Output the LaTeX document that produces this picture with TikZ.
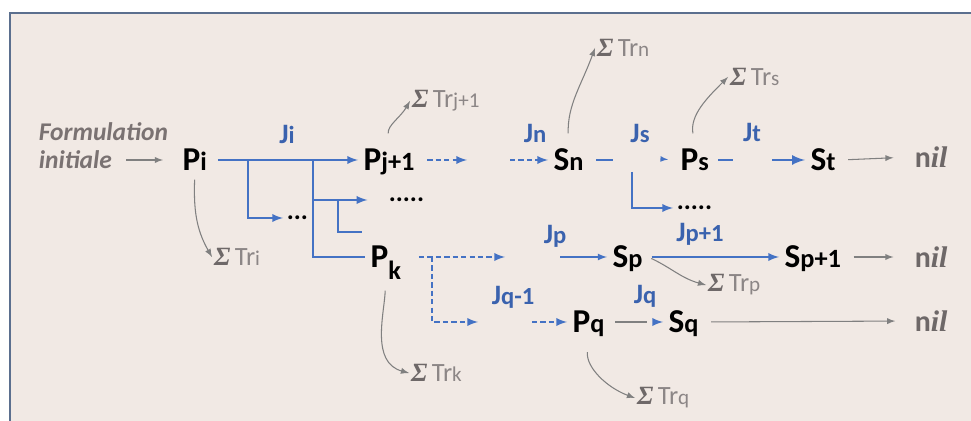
\documentclass[tikz,border=0pt]{standalone}
\usepackage{fontspec}
\setmainfont{Carlito}
\newfontfamily\serifit{Liberation Serif}
\definecolor{jblue}{HTML}{4472C4}
\definecolor{jlab}{HTML}{3A62AE}
\definecolor{trgray}{HTML}{8C8686}
\definecolor{siggray}{HTML}{6E6868}
\definecolor{fgray}{HTML}{7A7272}
\definecolor{bgcol}{HTML}{F1E9E4}
\definecolor{framecol}{HTML}{5B6F8E}
\newcommand{\ix}[1]{{\fontsize{15}{15}\selectfont #1}}
\newcommand{\jx}[1]{{\fontsize{14}{14}\selectfont #1}}
\newcommand{\trx}[1]{{\fontsize{12}{12}\selectfont #1}}
\newcommand{\tr}[1]{{\serifit\bfseries\itshape\color{siggray}Σ}\,Tr\trx{#1}}
\newcommand{\nil}{n{\serifit\itshape il}}
\begin{document}
\begin{tikzpicture}[x=0.02cm,y=0.02cm,>=latex,
  pn/.style={anchor=west,inner sep=3pt,text height=12pt,text depth=0pt,font=\fontsize{19}{19}\selectfont\bfseries},
  jl/.style={text=jlab,font=\fontsize{16}{16}\selectfont\bfseries},
  trl/.style={anchor=west,inner sep=1pt,text=trgray,font=\fontsize{15}{15}\selectfont},
  nl/.style={anchor=west,inner sep=2pt,text=siggray,font=\fontsize{17}{17}\selectfont\bfseries},
  fl/.style={anchor=west,inner sep=2pt,text=fgray,font=\fontsize{14.5}{14.5}\selectfont\bfseries\itshape},
  dots/.style={anchor=west,inner sep=2pt,text height=2pt,text depth=0pt,font=\fontsize{15}{15}\selectfont\bfseries},
  bl/.style={jblue,line width=1.1pt},
  bd/.style={jblue,line width=1.1pt,dash pattern=on 3pt off 1.8pt},
  gl/.style={gray,line width=0.6pt}]
\useasboundingbox (0,0) rectangle (971,-421);
\fill[white] (0,0) rectangle (971,-421);
\fill[bgcol] (10,-13) rectangle (971,-421);
\draw[framecol,line width=1.4pt] (10,-421)--(10,-13)--(971,-13);

\node (form) at (35,-132) [fl] {Formulation};
\node (init) at (35,-160) [fl] {initiale};
\node (Pi) at (177,-160) [pn] {P\ix{i}};
\node (Pj) at (358,-160) [pn] {P\ix{j+1}};
\node (Pk) at (365,-257) [pn] {P\raisebox{-7pt}{\ix{k}}};
\node (Sn) at (548,-160) [pn] {S\ix{n}};
\node (Ps) at (675,-160) [pn] {P\ix{s}};
\node (St) at (805,-160) [pn] {S\ix{t}};
\node (Sp) at (607,-257) [pn] {S\ix{p}};
\node (Sp1) at (779,-257) [pn] {S\ix{p+1}};
\node (Pq) at (567,-322) [pn] {P\ix{q}};
\node (Sq) at (663,-322) [pn] {S\ix{q}};
\node (dA) at (283,-218) [dots] {...};
\node (dB) at (385,-200) [dots] {.....};
\node (dC) at (673,-208) [dots] {.....};
\node (nil1) at (911,-157) [nl] {\nil};
\node (nil2) at (911,-257) [nl] {\nil};
\node (nil3) at (911,-321) [nl] {\nil};

\node (Ji) at (287,-134) [jl] {J\jx{i}};
\node (Jn) at (535,-133) [jl] {J\jx{n}};
\node (Js) at (640,-133) [jl] {J\jx{s}};
\node (Jt) at (752,-132) [jl] {J\jx{t}};
\node (Jp) at (555,-236) [jl] {J\jx{p}};
\node (Jp1) at (700,-234) [jl] {J\jx{p+1}};
\node (Jq1) at (513,-297) [jl] {J\jx{q-1}};
\node (Jq) at (645,-296) [jl] {J\jx{q}};

\node (Tri) at (212,-257) [trl] {\tr{i}};
\node (Trj) at (410,-101) [trl] {\tr{j+1}};
\node (Trn) at (595,-48) [trl] {\tr{n}};
\node (Trs) at (728,-77) [trl] {\tr{s}};
\node (Trp) at (706,-285) [trl] {\tr{p}};
\node (Trk) at (409,-373) [trl] {\tr{k}};
\node (Trq) at (635,-398) [trl] {\tr{q}};

\coordinate (bA) at (248,-160);
\coordinate (bB) at (313,-160);
\coordinate (bC) at (338,-200);
\coordinate (bCe) at (362,-232);
\coordinate (dPj) at (467,-160);
\coordinate (dSn) at (510,-160);
\coordinate (kB) at (432,-257);
\coordinate (dPk) at (505,-257);
\coordinate (kC) at (478,-322);
\coordinate (dPq) at (532,-322);
\coordinate (snE) at (613,-160);
\coordinate (sB) at (632,-172);
\coordinate (psA) at (661,-159);
\coordinate (psE) at (733,-160);
\coordinate (tS) at (772,-160);
\coordinate (pS) at (560,-257);
\coordinate (qE) at (647,-322);
\coordinate (qS) at (655,-322);

\draw[gl,->,shorten <=6pt,shorten >=8pt] (init.east) -- (Pi.west);
\draw[bl,->,shorten <=3pt] (Pi.east) -- (Pj.west);
\draw[bl,->] (bA) |- (dA.west);
\draw[bl] (bB) |- (Pk.west);
\draw[bl,->,shorten >=10pt] (bB |- dB) -- (dB.west);
\draw[bl] (bC) |- (bCe);
\draw[bd,->,shorten <=4pt] (Pj.east) -- (dPj);
\draw[bd,->] (dSn) -- (Sn.west);
\draw[bd,->,shorten <=7pt] (Pk.east) -- (dPk);
\draw[bd,->] (kB) |- (kC);
\draw[bd,->] (dPq) -- (Pq.west);
\draw[bl,shorten <=4pt] (Sn.east) -- (snE);
\draw[bl,->] (sB) |- (dC.west);
\draw[jblue,line width=0.5pt,->,shorten >=4pt] (psA) -- (Ps.west);
\draw[bl,shorten <=2pt] (Ps.east) -- (psE);
\draw[bl,->,line width=1.5pt] (tS) -- (St.west);
\draw[jblue,line width=0.8pt,->] (pS) -- (Sp.west);
\draw[bl,->,shorten <=2pt] (Sp.east) -- (Sp1.west);
\draw[gl,shorten <=3pt] (Pq.east) -- (qE);
\draw[bl,->] (qS) -- (Sq.west);
\draw[gl,->,shorten <=4pt,shorten >=10pt] (St.east) -- (nil1.west);
\draw[gl,->,shorten <=4pt,shorten >=10pt] (Sp1.east) -- (nil2.west);
\draw[gl,->,shorten <=4pt,shorten >=9pt] (Sq.east) -- (nil3.west);

\draw[gl,->,shorten <=2pt] (Pi.south) to[out=-92,in=120] (Tri.west);
\draw[gl,->,shorten <=6pt] (Pj.north) to[out=95,in=-120] (Trj.west);
\draw[gl,->,shorten <=6pt] (Sn.north) to[out=92,in=-110] (Trn.west);
\draw[gl,->,shorten <=6pt] (Ps.north) to[out=100,in=-135] (Trs.west);
\draw[gl,->,shorten <=2pt] (Sp.east) to[out=-25,in=165] (Trp.west);
\draw[gl,->,shorten <=10pt] (Pk.south) to[out=-92,in=165] (Trk.west);
\draw[gl,->,shorten <=8pt] (Pq.south) to[out=-95,in=160] (Trq.west);
\end{tikzpicture}
\end{document}
